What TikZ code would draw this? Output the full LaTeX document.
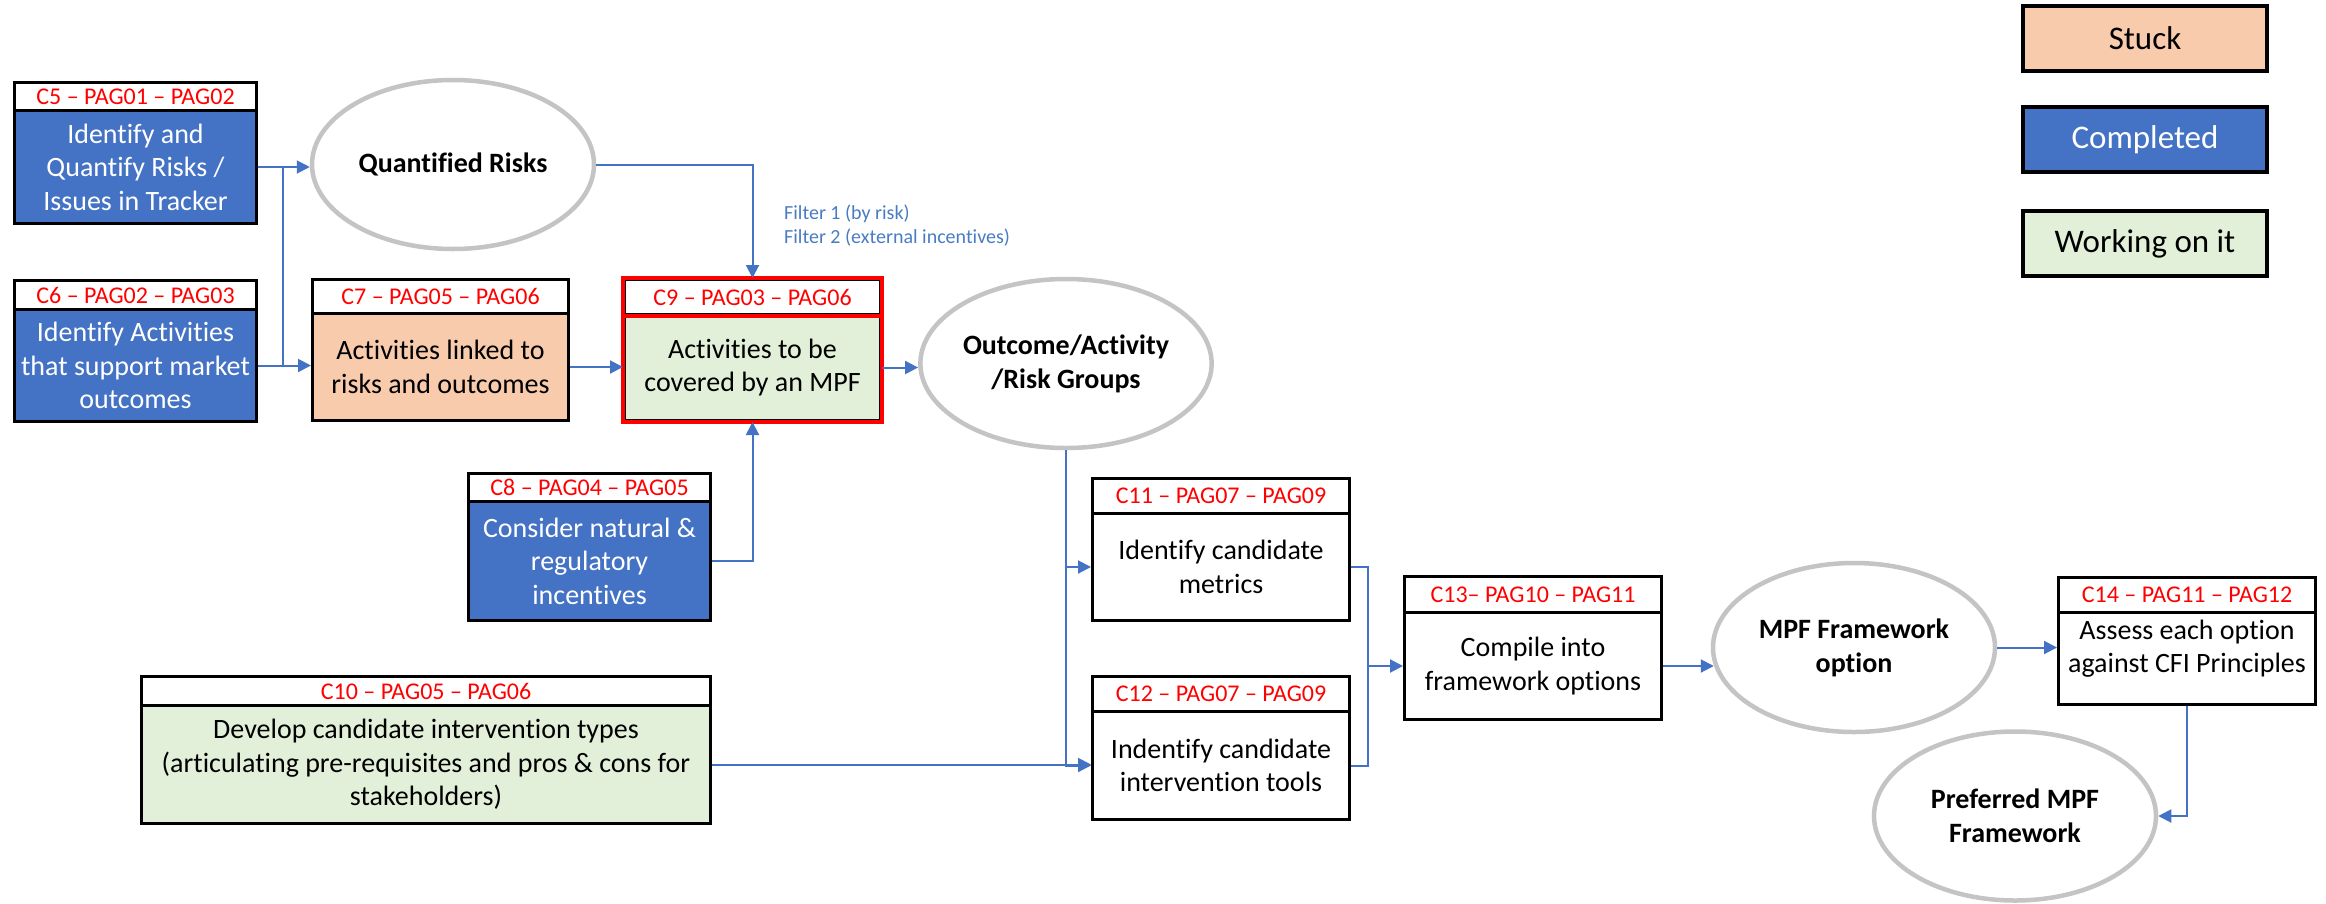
\documentclass[tikz,border=0pt]{standalone}
\usepackage{fontspec}
\setmainfont{Carlito}[Ligatures=NoCommon]
\usetikzlibrary{arrows.meta,shapes.geometric,calc}

\definecolor{doneblue}{HTML}{4472C4}
\definecolor{stuckfill}{HTML}{F8CBAD}
\definecolor{workfill}{HTML}{E2F0D9}
\definecolor{linkblue}{HTML}{4472C4}
\definecolor{notecol}{HTML}{4A7CC4}
\definecolor{ovalgray}{HTML}{C4C4C4}
\definecolor{tagred}{HTML}{FF0000}

\tikzset{
  boxline/.style={draw=black, line width=3pt},
  hdrbox/.style={boxline, fill=white, inner sep=0pt, text=tagred, font=\fontsize{24}{28}\selectfont},
  bodybase/.style={boxline, inner sep=0pt, align=center, font=\fontsize{28}{33.5}\selectfont},
  donebody/.style={bodybase, fill=doneblue, text=white},
  stuckbody/.style={bodybase, fill=stuckfill, text=black},
  workbody/.style={bodybase, fill=workfill, text=black},
  plainbody/.style={bodybase, fill=white, text=black},
  redframe/.style={draw=tagred, line width=4pt},
  oval/.style={ellipse, draw=ovalgray, line width=4.5pt, fill=white, inner sep=0pt,
    align=center, font=\fontsize{28}{34}\selectfont\bfseries,
    minimum width=282pt, minimum height=169pt},
  link/.style={draw=linkblue, line width=2pt},
  linkarrow/.style={link, -{Triangle[length=13pt,width=13pt]}},
  legendbox/.style={draw=black, line width=3.5pt, minimum width=244pt, minimum height=65pt,
    inner sep=0pt, font=\fontsize{33}{38}\selectfont},
}

% task box: header strip with the code, body with the task text
% #1 name, #2 left, #3 right, #4 top, #5 header bottom, #6 bottom, #7 body style, #8 code, #9 text
\newcommand{\taskbox}[9]{%
  \node[hdrbox, minimum width={#3-#2}, minimum height={#5-#4}, anchor=north west] (#1h) at (#2,#4) {#8};
  \node[#7, minimum width={#3-#2}, minimum height={#6-#5}, anchor=north west] (#1) at (#2,#5) {#9};
}

\begin{document}
\begin{tikzpicture}[x=1pt,y=-1pt]
\useasboundingbox (0,0) rectangle (2326,903);
\fill[white] (0,0) rectangle (2326,903);

% legend
\node[legendbox, fill=stuckfill] (lgstuck) at (2145,38.5) {Stuck};
\node[legendbox, fill=doneblue, text=white] (lgdone) at (2145,139.5) {Completed};
\node[legendbox, fill=workfill] (lgwork) at (2145,243.5) {Working on it};

% task boxes
\taskbox{c5}{13}{255}{81}{109}{222}{donebody}{C5 – PAG01 – PAG02}{Identify and\\Quantify Risks /\\Issues in Tracker}
\taskbox{c6}{13}{255}{279}{308}{420}{donebody}{C6 – PAG02 – PAG03}{Identify Activities\\that support market\\outcomes}
\taskbox{c7}{311}{567}{278}{312}{419}{stuckbody}{C7 – PAG05 – PAG06}{Activities linked to\\risks and outcomes}
\taskbox{c9}{623}{879}{278}{313}{419}{workbody}{C9 – PAG03 – PAG06}{Activities to be\\covered by an MPF}
\draw[redframe] (c9h.north west) rectangle (c9.south east);
\draw[redframe] (c9h.south west) -- (c9h.south east);
\taskbox{c8}{467}{709}{472}{500}{619}{donebody}{C8 – PAG04 – PAG05}{Consider natural \&\\regulatory\\incentives}
\taskbox{c10}{140}{709}{675}{704}{822}{workbody}{C10 – PAG05 – PAG06}{Develop candidate intervention types\\(articulating pre-requisites and pros \& cons for\\stakeholders)}
\taskbox{c11}{1091}{1348}{477}{512}{619}{plainbody}{C11 – PAG07 – PAG09}{Identify candidate\\metrics}
\taskbox{c12}{1091}{1348}{675}{710}{818}{plainbody}{C12 – PAG07 – PAG09}{Indentify candidate\\intervention tools}
\taskbox{c13}{1403}{1660}{575}{611}{718}{plainbody}{C13– PAG10 – PAG11}{Compile into\\framework options}
\taskbox{c14}{2057}{2314}{576}{611}{703}{plainbody, text depth=24pt}{C14 – PAG11 – PAG12}{Assess each option\\against CFI Principles}

% outcome ovals
\node[oval] (qr) at (453,164.5) {Quantified Risks};
\node[oval] (og) at (1066,363.5) {Outcome/Activity\\/Risk Groups};
\node[oval] (mpf) at (1854,647.5) {MPF Framework\\option};
\node[oval] (pref) at (2015,816) {Preferred MPF\\Framework};

% filter note
\node[anchor=west, align=left, text=notecol, inner sep=0pt, font=\fontsize{20}{24}\selectfont] (filt) at (784,226) {Filter 1 (by risk)\\Filter 2 (external incentives)};

% connectors
\coordinate (jn) at (283,0);
\coordinate (mg) at (1368,0);
\draw[linkarrow] (c5.east) -- (c5.east -| qr.west);
\draw[linkarrow] (c6.east) -- (c6.east -| c7.west);
\draw[link] (jn |- c5.east) -- (jn |- c6.east);
\draw[linkarrow] (qr.east) -| (c9h.north);
\draw[linkarrow] (c7.east) -- (c7.east -| c9.west);
\draw[linkarrow] (c8.east) -| (c9.south);
\draw[linkarrow] (c9.east) -- (c9.east -| og.west);
\draw[linkarrow] (og.south) |- (c11.west);
\draw[linkarrow] (og.south) |- (c12.west);
\draw[linkarrow] (c10.east) -- (c10.east -| c12.west);
\draw[link] (c11.east) -- (c11.east -| mg) -- (c12.east -| mg) -- (c12.east);
\draw[linkarrow] (mg |- c13.west) -- (c13.west);
\draw[linkarrow] (c13.east) -- ($(c13.east -| mpf.west)+(3,0)$);
\draw[linkarrow] (mpf.east) -- (mpf.east -| c14.west);
\draw[linkarrow] (c14.south) |- (pref.east);
\end{tikzpicture}
\end{document}
